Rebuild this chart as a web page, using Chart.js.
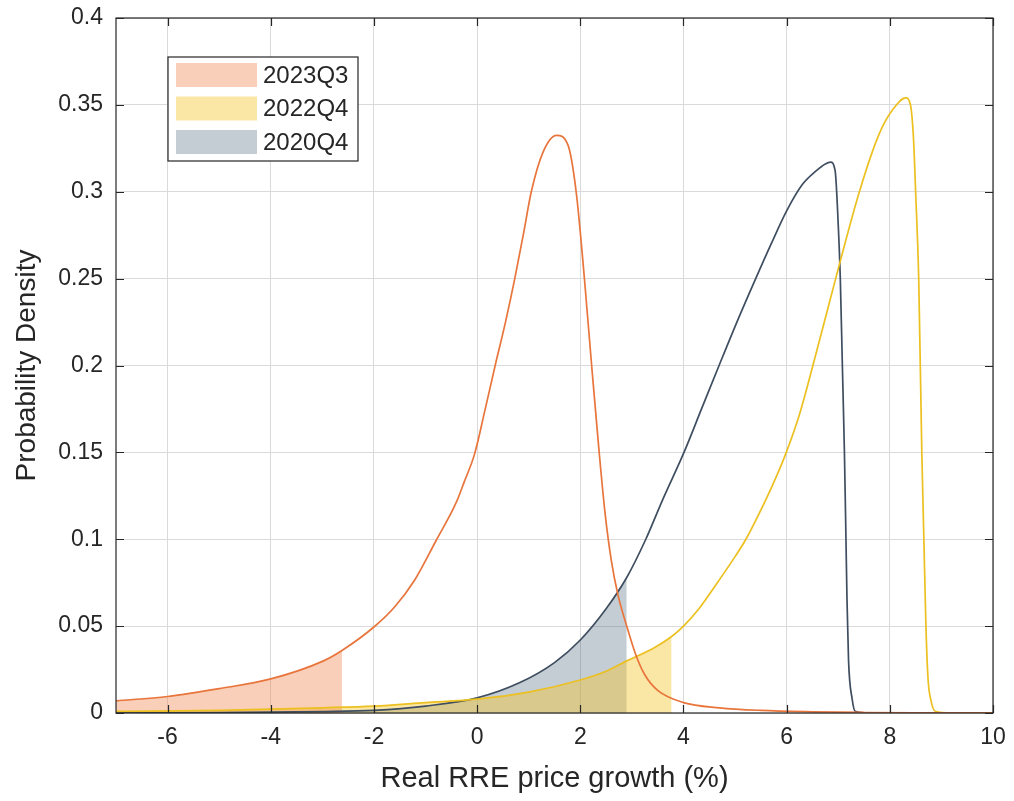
<!DOCTYPE html>
<html>
<head>
<meta charset="utf-8">
<script src="https://cdn.jsdelivr.net/npm/chart.js@4.4.1/dist/chart.umd.min.js"></script>
<style>
  html, body { margin: 0; padding: 0; background: #fff; }
  #wrap { width: 1014px; height: 801px; }
</style>
</head>
<body>
<div id="wrap"><canvas id="chart"></canvas></div>
<script>
// --- Data ---
const seriesNames = ['2023Q3', '2022Q4', '2020Q4'];
const xTicks = [-6, -4, -2, 0, 2, 4, 6, 8, 10];
const yTicks = [0, 0.05, 0.1, 0.15, 0.2, 0.25, 0.3, 0.35, 0.4];

// 2023Q3 density
const x2023Q3 = [-7, -6, -5, -4, -3, -2.62, -2, -1.6, -1.2, -0.8, -0.4, -0.25, -0.05, 0.15, 0.35, 0.55, 0.73, 0.9, 1.05, 1.28, 1.54, 1.76, 1.92, 2.08, 2.22, 2.36, 2.48, 2.6, 2.73, 2.9, 3.07, 3.25, 3.5, 4.0, 4.7, 5.5, 6.5, 7.5, 8.5, 10];
const y2023Q3 = [0.007, 0.0095, 0.014, 0.0196, 0.0297, 0.036, 0.0495, 0.061, 0.077, 0.099, 0.1215, 0.133, 0.149, 0.174, 0.2, 0.225, 0.25, 0.276, 0.3, 0.323, 0.3325, 0.327, 0.3, 0.25, 0.2, 0.152, 0.115, 0.088, 0.068, 0.05, 0.034, 0.022, 0.013, 0.006, 0.003, 0.0015, 0.0007, 0.0003, 0.0001, 0];

// 2022Q4 density
const x2022Q4 = [-7, -5, -3, -2, -1, 0, 1, 2, 2.5, 2.9, 3.4, 3.77, 4.0, 4.3, 4.68, 5.0, 5.21, 5.6, 5.8, 5.98, 6.25, 6.5, 6.95, 7.41, 7.79, 8.05, 8.31, 8.4, 8.46, 8.5, 8.56, 8.62, 8.66, 8.7, 8.74, 8.8, 8.88, 9.2, 10];
const y2022Q4 = [0.001, 0.0015, 0.003, 0.004, 0.006, 0.008, 0.012, 0.019, 0.024, 0.03, 0.037, 0.044, 0.05, 0.06, 0.076, 0.09, 0.1, 0.123, 0.136, 0.149, 0.172, 0.199, 0.25, 0.3, 0.333, 0.347, 0.354, 0.35, 0.33, 0.3, 0.25, 0.15, 0.1, 0.05, 0.02, 0.007, 0.001, 0, 0];

// 2020Q4 density
const x2020Q4 = [-7, -5, -3, -2, -1, 0, 0.83, 1.5, 2.0, 2.5, 2.9, 3.27, 3.6, 4.01, 4.35, 4.69, 5.05, 5.4, 5.7, 6.0, 6.3, 6.57, 6.75, 6.85, 6.94, 7.0, 7.04, 7.08, 7.12, 7.15, 7.17, 7.2, 7.27, 7.33, 7.6, 10];
const y2020Q4 = [0, 0.0002, 0.0008, 0.0015, 0.004, 0.0087, 0.0175, 0.029, 0.042, 0.06, 0.078, 0.1, 0.123, 0.15, 0.175, 0.2, 0.226, 0.25, 0.27, 0.289, 0.304, 0.312, 0.316, 0.317, 0.312, 0.281, 0.25, 0.2, 0.15, 0.1, 0.065, 0.03, 0.008, 0.001, 0, 0];

// lower tail cut points (shaded areas)
const tailCutoffs = [-2.62, 3.77, 2.9];

const lineColors = ['#e8753c', '#ecc020', '#3e4e60'];
const fillColors = ['rgba(238,128,70,0.38)', 'rgba(242,196,40,0.42)', 'rgba(64,88,112,0.30)'];

// --- Build datasets ---
const curves = [[x2023Q3, y2023Q3], [x2022Q4, y2022Q4], [x2020Q4, y2020Q4]];
const toPoints = (xs, ys) => xs.map((x, i) => ({ x, y: ys[i] }));

const datasets = [];
curves.forEach(([xs, ys], i) => {
    const pts = toPoints(xs, ys);
    datasets.push({
        label: seriesNames[i] + ' tail',
        data: pts.filter(p => p.x <= tailCutoffs[i]),
        borderWidth: 0,
        backgroundColor: fillColors[i],
        fill: 'origin',
        order: 2,
    });
});
curves.forEach(([xs, ys], i) => {
    datasets.push({
        label: seriesNames[i],
        data: toPoints(xs, ys),
        borderColor: lineColors[i],
        borderWidth: 1.7,
        fill: false,
        order: 1,
    });
});

const fontFamily = '"Liberation Sans", Arial, sans-serif';

// frame, inward ticks and legend, MATLAB style
const boxPlugin = {
    id: 'box',
    afterDraw(chart) {
        const { ctx, chartArea: a, scales: { x, y } } = chart;
        ctx.save();
        ctx.strokeStyle = '#262626';
        ctx.lineWidth = 1.2;
        ctx.strokeRect(a.left, a.top, a.right - a.left, a.bottom - a.top);
        const len = 8;
        ctx.beginPath();
        xTicks.forEach(v => {
            const px = Math.round(x.getPixelForValue(v)) + 0.5;
            ctx.moveTo(px, a.bottom); ctx.lineTo(px, a.bottom - len);
            ctx.moveTo(px, a.top); ctx.lineTo(px, a.top + len);
        });
        yTicks.forEach(v => {
            const py = Math.round(y.getPixelForValue(v)) + 0.5;
            ctx.moveTo(a.left, py); ctx.lineTo(a.left + len, py);
            ctx.moveTo(a.right, py); ctx.lineTo(a.right - len, py);
        });
        ctx.stroke();

        // legend
        const lx = a.left + 52, ly = a.top + 39, lw = 190, lh = 104;
        ctx.fillStyle = '#fff';
        ctx.fillRect(lx, ly, lw, lh);
        ctx.strokeStyle = '#262626';
        ctx.lineWidth = 1.2;
        ctx.strokeRect(lx, ly, lw, lh);
        ctx.font = '24px ' + fontFamily;
        ctx.textBaseline = 'middle';
        seriesNames.forEach((name, i) => {
            const cy = ly + 18 + i * 33.5;
            ctx.fillStyle = fillColors[i];
            ctx.fillRect(lx + 8, cy - 12, 81, 24);
            ctx.fillStyle = '#262626';
            ctx.fillText(name, lx + 95, cy + 1);
        });
        ctx.restore();
    }
};

const tickFont = { size: 23, family: fontFamily };
const titleFont = { size: 28, family: fontFamily };

new Chart(document.getElementById('chart'), {
    type: 'line',
    data: { datasets },
    options: {
        responsive: true,
        maintainAspectRatio: false,
        animation: false,
        layout: { padding: { top: 18, right: 21, left: 0, bottom: 0 } },
        elements: {
            point: { radius: 0 },
            line: { cubicInterpolationMode: 'monotone' },
        },
        plugins: {
            legend: { display: false },
            tooltip: { enabled: false },
        },
        scales: {
            x: {
                type: 'linear',
                min: -7,
                max: 10,
                afterBuildTicks: s => { s.ticks = xTicks.map(v => ({ value: v })); },
                afterFit: s => { s.height = 88; s.paddingLeft = 0; s.paddingRight = 0; },
                grid: { color: '#dadada', drawTicks: false },
                border: { display: false },
                ticks: { font: tickFont, color: '#262626', padding: 11, maxRotation: 0 },
                title: { display: true, text: 'Real RRE price growth (%)', font: { size: 29, family: fontFamily }, color: '#262626', padding: { top: 2, bottom: 5 } },
            },
            y: {
                type: 'linear',
                min: 0,
                max: 0.4,
                afterBuildTicks: s => { s.ticks = yTicks.map(v => ({ value: v })); },
                afterFit: s => { s.width = 116; s.paddingTop = 0; s.paddingBottom = 0; },
                grid: { color: '#dadada', drawTicks: false },
                border: { display: false },
                ticks: { font: tickFont, color: '#262626', padding: 13, callback: v => String(+v.toFixed(2)) },
                title: { display: true, text: 'Probability Density', font: titleFont, color: '#262626', padding: { top: 10, bottom: 4 } },
            },
        },
    },
    plugins: [boxPlugin],
});
</script>
</body>
</html>
